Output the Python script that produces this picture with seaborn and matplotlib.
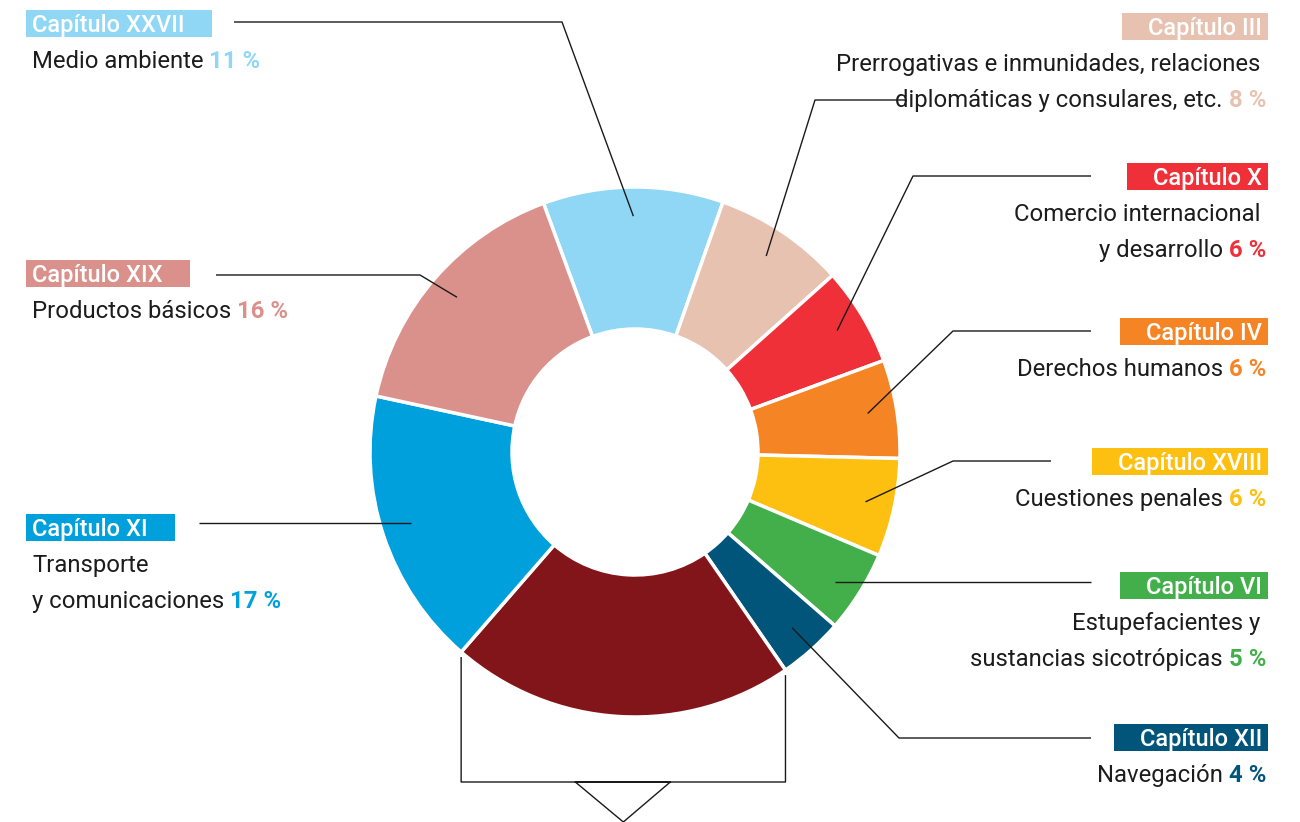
import matplotlib
matplotlib.use("Agg")
import numpy as np
import matplotlib.pyplot as plt
from matplotlib.patches import Rectangle
import seaborn as sns

# --- data -------------------------------------------------------------
capitulos = ["Capítulo XXVII", "Capítulo III", "Capítulo X", "Capítulo IV",
             "Capítulo XVIII", "Capítulo VI", "Capítulo XII", "",
             "Capítulo XI", "Capítulo XIX"]
temas = ["Medio ambiente",
         "Prerrogativas e inmunidades, relaciones\ndiplomáticas y consulares, etc.",
         "Comercio internacional\ny desarrollo",
         "Derechos humanos",
         "Cuestiones penales",
         "Estupefacientes y\nsustancias sicotrópicas",
         "Navegación",
         "",
         "Transporte\ny comunicaciones",
         "Productos básicos"]
porcentajes = [11, 8, 6, 6, 6, 5, 4, 21, 17, 16]
colores = ["#8FD7F5", "#E8C2B1", "#EF3038", "#F58425", "#FDC010",
           "#42AF4A", "#01547A", "#82151A", "#00A0DC", "#DA918B"]

# --- label layout (pixel positions, y measured from the top) -----------
layout = {
    "Capítulo XXVII": dict(side="left", top=10, ly=22, lx=234, elbow=562),
    "Capítulo III": dict(side="right", top=13, ly=100, lx=905, elbow=815),
    "Capítulo X": dict(side="right", top=163, ly=176, lx=1091, elbow=913),
    "Capítulo IV": dict(side="right", top=318, ly=331, lx=1091, elbow=953),
    "Capítulo XVIII": dict(side="right", top=448, ly=461, lx=1051, elbow=953),
    "Capítulo VI": dict(side="right", top=572, ly=582, lx=1091, elbow=None),
    "Capítulo XII": dict(side="right", top=724, ly=738, lx=1091, elbow=899),
    "Capítulo XI": dict(side="left", top=514, ly=523, lx=199, elbow=None),
    "Capítulo XIX": dict(side="left", top=260, ly=275, lx=216, elbow=420),
}

sns.set_theme(style="white")
plt.rcParams["font.family"] = ["Roboto", "DejaVu Sans"]

W, H = 1300, 822
fig = plt.figure(figsize=(W / 100, H / 100), dpi=100)
ax = fig.add_axes([0, 0, 1, 1])

cx, cy = 635, H - 452
R, r_in = 265, 123
wedges, _ = ax.pie(porcentajes, colors=colores, startangle=110.2,
                   counterclock=False, radius=R, center=(cx, cy),
                   wedgeprops=dict(width=R - r_in, edgecolor="white",
                                   linewidth=2.5))
ax.set_xlim(0, W)
ax.set_ylim(0, H)
ax.set_aspect("equal")
ax.axis("off")

FS_TITLE = 17.0
FS_BODY = 17.2
LINE = 36
BODY_COL = "#1c1c1c"
line_kw = dict(color="#1a1a1a", lw=1.0, solid_capstyle="butt", zorder=1)

titles = []
for i, cap in enumerate(capitulos):
    if not cap:
        continue
    lay = layout[cap]
    col = colores[i]
    w = wedges[i]
    mid = np.radians((w.theta1 + w.theta2) / 2)
    axp = cx + 0.89 * R * np.cos(mid)
    ayp = cy + 0.89 * R * np.sin(mid)

    # leader line
    ly = H - lay["ly"]
    if lay["elbow"] is None:
        ax.plot([lay["lx"], axp], [ly, ly], **line_kw)
    else:
        ax.plot([lay["lx"], lay["elbow"], axp], [ly, ly, ayp], **line_kw)

    top = lay["top"]
    left = lay["side"] == "left"
    x = 32 if left else 1266
    ha = "left" if left else "right"

    t = ax.text(x if left else x - 4, H - (top + 22), cap, ha=ha,
                va="baseline", color="white", fontsize=FS_TITLE,
                fontweight="medium", zorder=4)
    titles.append((t, left, top, col))

    lines = temas[i].split("\n")
    pct = f"{porcentajes[i]} %"
    for k, ln in enumerate(lines):
        yb = H - (top + 58 + LINE * k)
        last = k == len(lines) - 1
        if left:
            tt = ax.text(x, yb, ln + (" " if last else ""), ha="left",
                         va="baseline", color=BODY_COL, fontsize=FS_BODY,
                         fontweight="normal", zorder=4)
            if last:
                ax.annotate(pct, xy=(1, yb), xycoords=(tt, "data"),
                            ha="left", va="baseline", color=col,
                            fontsize=FS_BODY, fontweight="bold", zorder=4)
        else:
            if last:
                pt = ax.text(x, yb, pct, ha="right", va="baseline",
                             color=col, fontsize=FS_BODY, fontweight="bold",
                             zorder=4)
                ax.annotate(ln + " ", xy=(0, yb), xycoords=(pt, "data"),
                            ha="right", va="baseline", color=BODY_COL,
                            fontsize=FS_BODY, fontweight="normal", zorder=4)
            else:
                ax.text(x, yb, ln + " ", ha="right", va="baseline",
                        color=BODY_COL, fontsize=FS_BODY,
                        fontweight="normal", zorder=4)

# coloured boxes behind the chapter titles
fig.canvas.draw()
inv = ax.transData.inverted()
for t, left, top, col in titles:
    bb = t.get_window_extent().transformed(inv)
    if left:
        x0, x1 = bb.x0 - 6, bb.x1 + 27
    else:
        x0, x1 = bb.x0 - 26, bb.x1 + 6
    ax.add_patch(Rectangle((x0, H - top - 27), x1 - x0, 27, facecolor=col,
                           edgecolor="none", zorder=3))

# bracket under the unlabelled segment
w = wedges[7]
pts = []
for th in (w.theta2, w.theta1):
    a = np.radians(th)
    pts.append((cx + R * np.cos(a), cy + R * np.sin(a)))
(xl, yl), (xr, yr) = pts
yb = H - 782
xm = (xl + xr) / 2
ax.plot([xl, xl, xm - 48, xm, xm + 47, xr, xr],
        [yl - 5, yb, yb, H - 822, yb, yb, yr - 5], **line_kw)

fig.savefig("out.png", dpi=100)
